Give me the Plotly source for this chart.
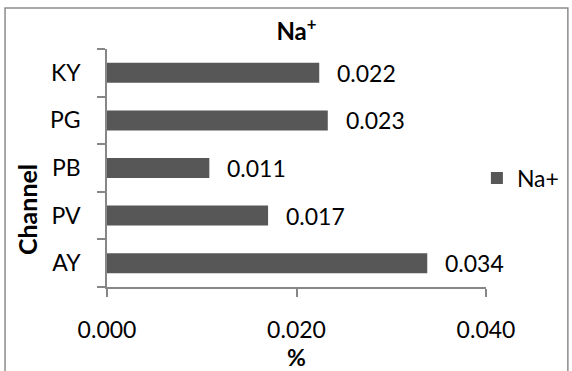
import plotly.graph_objects as go

# Sodium content per channel (%)
channels = ["AY", "PV", "PB", "PG", "KY"]
na_values = [0.0338, 0.0170, 0.0108, 0.0233, 0.0224]
x_ticks = [0.0, 0.02, 0.04]
x_tick_labels = ["0.000", "0.020", "0.040"]

FONT = "Lato"
SIZE = 23
BAR = "#575757"
AXIS = "#878787"

fig = go.Figure()

fig.add_trace(go.Bar(
    x=na_values,
    y=channels,
    orientation="h",
    name="Na+",
    marker=dict(color=BAR, line=dict(width=0)),
    width=0.42,
))

# value labels to the right of each bar
for ch, v in zip(channels, na_values):
    fig.add_annotation(
        x=v, y=ch, text=f"{v:.3f}", showarrow=False,
        xanchor="left", yanchor="middle", xshift=16,
        font=dict(family=FONT, size=SIZE, color="#000000"),
    )

# vertical axis title, set a little below the plot's middle
fig.add_annotation(
    xref="paper", yref="paper", x=-0.211, y=0.3235,
    text="<b>Channel</b>", textangle=-90, showarrow=False,
    xanchor="center", yanchor="middle",
    font=dict(family=FONT, size=25, color="#000000"),
)

# chart frame
fig.add_shape(
    type="rect", xref="paper", yref="paper",
    x0=-0.269, x1=1.216, y0=-0.45, y1=1.172,
    line=dict(color="#8c8c8c", width=1.5), fillcolor="rgba(0,0,0,0)",
    layer="below",
)

fig.update_layout(
    width=572, height=371,
    margin=dict(l=107, r=86, t=49, b=84, autoexpand=False),
    paper_bgcolor="white", plot_bgcolor="white",
    font=dict(family=FONT, size=SIZE, color="#000000"),
    title=dict(
        text="<b>Na<sup>+</sup></b>", x=0.5, xref="paper", xanchor="center",
        y=0.915, yref="container", yanchor="middle",
        font=dict(family=FONT, size=24, color="#000000"),
    ),
    showlegend=True,
    legend=dict(
        x=0.976, xanchor="left", y=0.458, yanchor="middle",
        font=dict(family=FONT, size=SIZE), itemwidth=30,
        bgcolor="rgba(0,0,0,0)", tracegroupgap=0,
    ),
)

fig.update_xaxes(
    range=[0, 0.04], tickvals=x_ticks, ticktext=x_tick_labels,
    showgrid=False, zeroline=False,
    showline=True, linecolor=AXIS, linewidth=1.5,
    ticks="outside", ticklen=8, tickcolor=AXIS, tickwidth=1.5,
    ticklabelstandoff=14,
    title=dict(text="<b>%</b>", standoff=2, font=dict(family=FONT, size=SIZE)),
)

fig.update_yaxes(
    categoryorder="array", categoryarray=channels,
    showgrid=False, zeroline=False,
    showline=True, linecolor=AXIS, linewidth=1.5,
    ticks="outside", ticklen=8, tickcolor=AXIS, tickwidth=1.5,
    tickson="boundaries", ticklabelstandoff=20,
)

fig.write_html("out.html")
